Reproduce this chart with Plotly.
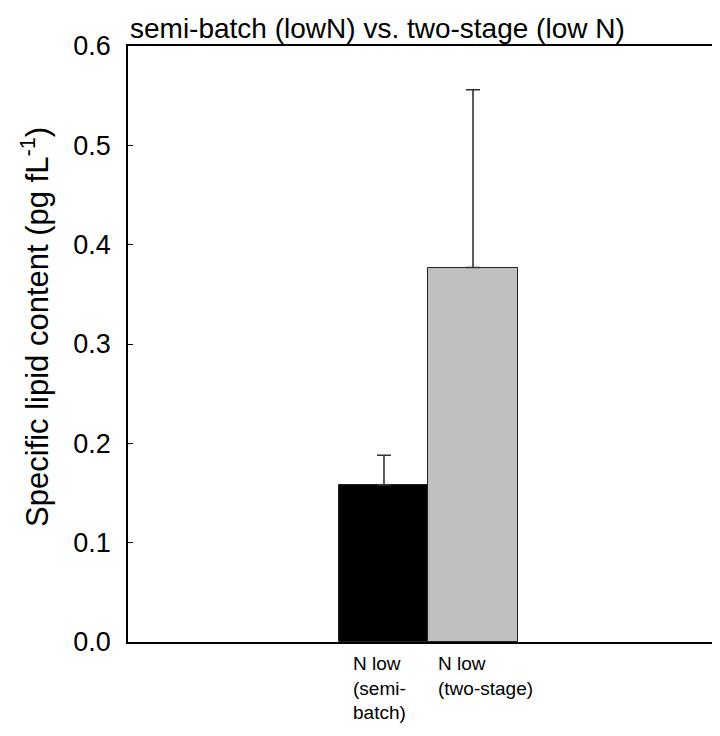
import plotly.graph_objects as go

categories = ["N low<br>(semi-<br>batch)", "N low<br>(two-stage)"]
values = [0.158, 0.377]
errors_plus = [0.030, 0.179]
bar_colors = ["#000000", "#c0c0c0"]
y_ticks = [0.0, 0.1, 0.2, 0.3, 0.4, 0.5, 0.6]

FONT = "Liberation Sans, Arial, sans-serif"
xpos = list(range(len(categories)))

fig = go.Figure()
fig.add_trace(go.Bar(
    x=xpos, y=values, width=1.0,
    marker=dict(color=bar_colors, line=dict(color="#222222", width=1)),
    error_y=dict(type="data", array=errors_plus, arrayminus=[0, 0], symmetric=False,
                 color="#333333", thickness=1.6, width=7),
    showlegend=False,
))

label_shift = [-33, -37]
for i, lab in enumerate(categories):
    fig.add_annotation(x=xpos[i], y=0, xref="x", yref="paper", text=lab,
                       showarrow=False, xanchor="left", yanchor="top", align="left",
                       xshift=label_shift[i], yshift=-9,
                       font=dict(family=FONT, size=19, color="black"))

# y-axis title as rotated annotation
fig.add_annotation(x=-93/600, y=0.5285, xref="paper", yref="paper",
                   text="Specific lipid content (pg fL<sup>-1</sup>)", textangle=-90,
                   showarrow=False, xanchor="center", yanchor="middle",
                   font=dict(family=FONT, size=31, color="black"))

fig.update_layout(
    width=720, height=736,
    margin=dict(l=120, r=0, t=38, b=102),
    plot_bgcolor="white", paper_bgcolor="white",
    font=dict(family=FONT, color="black"),
    title=dict(text="semi-batch (lowN) vs. two-stage (low N)", x=122/720, xanchor="left",
               y=1 - 20/736, yanchor="middle",
               font=dict(family=FONT, size=28, color="black")),
    bargap=0,
)
fig.update_xaxes(range=[-2.876, 3.865], showticklabels=False, ticks="",
                 showline=True, linecolor="black", linewidth=1.5, mirror=True,
                 showgrid=False, zeroline=False)
fig.update_yaxes(range=[0, 0.6], tickvals=y_ticks, tickformat=".1f",
                 ticks="inside", ticklen=5, tickcolor="black",
                 ticklabelstandoff=10,
                 showline=True, linecolor="black", linewidth=1.5,
                 showgrid=False, zeroline=False,
                 tickfont=dict(family=FONT, size=27, color="black"))

fig.write_html("out.html")
